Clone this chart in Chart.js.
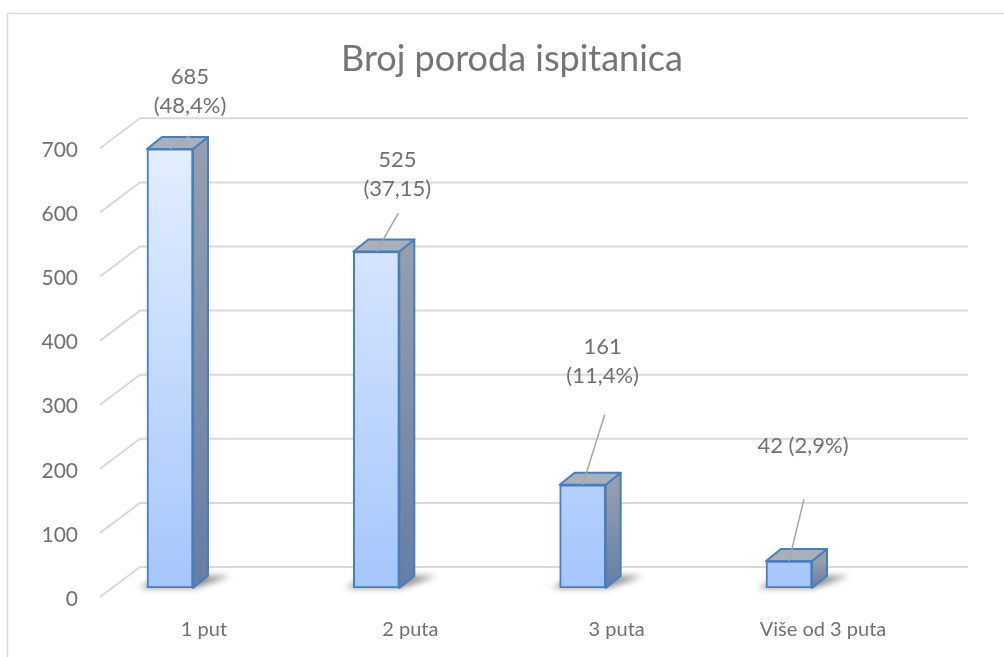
<!DOCTYPE html>
<html>
<head>
<meta charset="utf-8">
<script src="https://cdn.jsdelivr.net/npm/chart.js@4"></script>
<style>
  html, body { margin: 0; padding: 0; background: #fff; }
  #wrap { width: 1004px; height: 657px; position: relative; }
</style>
</head>
<body>
<div id="wrap"><canvas id="porodChart"></canvas></div>
<script>
// data
var categories = ['1 put', '2 puta', '3 puta', 'Više od 3 puta'];
var counts = [685, 525, 161, 42];
var shares = ['(48,4%)', '(37,15)', '(11,4%)', '(2,9%)'];
var yTicks = [0, 100, 200, 300, 400, 500, 600, 700];
var chartTitle = 'Broj poroda ispitanica';

// where each data label was dragged to (px, from the top-front centre of its bar)
var labelDx = [20, 21, 20, 14];
var labelDy = [-72, -92, -138, -115];
var leaderEnd = [[20, -13], [22, -38], [22, -70], [15, -62]];
var twoLines = [true, true, true, false];

var textGray = '#707070';
var gridGray = '#d9d9d9';
var edgeBlue = '#4a7ebb';
var fontName = 'Lato, "Open Sans", sans-serif';

// 3d look: depth of a bar and of the whole plot
var barDepth = { dx: 15, dy: -12 };
var wallDepth = { dx: 40, dy: -30 };
var frontToAxis = { dx: -12, dy: 9 };

var frame3d = {
    id: 'frame3d',
    beforeDraw: function(chart) {
        var ctx = chart.ctx;
        ctx.save();
        ctx.strokeStyle = gridGray;
        ctx.lineWidth = 1.5;
        ctx.strokeRect(7.5, 13.5, 1200, 800);

        ctx.fillStyle = '#757575';
        ctx.font = '36px ' + fontName;
        ctx.textAlign = 'center';
        ctx.textBaseline = 'middle';
        ctx.fillText(chartTitle, 512, 59);
        ctx.restore();
    },
    beforeDatasetsDraw: function(chart) {
        var ctx = chart.ctx;
        var area = chart.chartArea;
        var yScale = chart.scales.y;
        var axisX = area.left + 4;
        var wallRight = area.right + 40;
        ctx.save();
        ctx.strokeStyle = gridGray;
        ctx.lineWidth = 2;
        yTicks.forEach(function(v) {
            var y = yScale.getPixelForValue(v) + frontToAxis.dy;
            ctx.beginPath();
            ctx.moveTo(axisX, y);
            ctx.lineTo(axisX + wallDepth.dx, y + wallDepth.dy);
            ctx.lineTo(wallRight, y + wallDepth.dy);
            ctx.stroke();
        });

        // soft floor shadows
        var meta = chart.getDatasetMeta(0);
        ctx.filter = 'blur(3px)';
        ctx.fillStyle = 'rgba(0,0,0,0.45)';
        meta.data.forEach(function(bar) {
            var l = bar.x - bar.width / 2, r = bar.x + bar.width / 2, b = bar.base;
            ctx.beginPath();
            ctx.moveTo(l - 8, b);
            ctx.lineTo(r + 2, b);
            ctx.lineTo(r + barDepth.dx + 22, b + barDepth.dy);
            ctx.lineTo(l + barDepth.dx, b + barDepth.dy);
            ctx.closePath();
            ctx.fill();
        });
        ctx.restore();
    },
    afterDatasetsDraw: function(chart) {
        var ctx = chart.ctx;
        var meta = chart.getDatasetMeta(0);
        ctx.save();
        ctx.lineJoin = 'round';
        meta.data.forEach(function(bar, i) {
            var l = bar.x - bar.width / 2, r = bar.x + bar.width / 2;
            var t = bar.y, b = bar.base;
            var dx = barDepth.dx, dy = barDepth.dy;

            var side = ctx.createLinearGradient(0, t, 0, b);
            side.addColorStop(0, '#959eae');
            side.addColorStop(1, '#667da5');
            ctx.beginPath();
            ctx.moveTo(r, t);
            ctx.lineTo(r + dx, t + dy);
            ctx.lineTo(r + dx, b + dy);
            ctx.lineTo(r, b);
            ctx.closePath();
            ctx.fillStyle = side;
            ctx.fill();
            ctx.strokeStyle = edgeBlue;
            ctx.lineWidth = 2;
            ctx.stroke();

            ctx.beginPath();
            ctx.moveTo(l, t);
            ctx.lineTo(l + dx, t + dy);
            ctx.lineTo(r + dx, t + dy);
            ctx.lineTo(r, t);
            ctx.closePath();
            ctx.fillStyle = '#a8b0be';
            ctx.fill();
            ctx.stroke();

            // leader line and label
            ctx.beginPath();
            ctx.strokeStyle = '#a6a6a6';
            ctx.lineWidth = 1.5;
            ctx.moveTo(bar.x, t);
            ctx.lineTo(bar.x + leaderEnd[i][0], t + leaderEnd[i][1]);
            ctx.stroke();

            ctx.fillStyle = textGray;
            ctx.font = '22px ' + fontName;
            ctx.textAlign = 'center';
            ctx.textBaseline = 'middle';
            var lx = bar.x + labelDx[i], ly = t + labelDy[i];
            if (twoLines[i]) {
                ctx.fillText(String(counts[i]), lx, ly);
                ctx.fillText(shares[i], lx, ly + 29);
            } else {
                ctx.fillText(counts[i] + ' ' + shares[i], lx, ly);
            }
        });
        ctx.restore();
    }
};

var points = counts.map(function(v, i) { return { x: i, y: v }; });

var context = document.getElementById('porodChart').getContext('2d');
var myChart = new Chart(context, {
    type: 'bar',
    data: {
        datasets: [{
            data: points,
            barThickness: 46,
            borderColor: edgeBlue,
            borderWidth: 2,
            borderSkipped: false,
            backgroundColor: function(c) {
                var area = c.chart.chartArea;
                if (!area) return '#c5dafc';
                var g = c.chart.ctx.createLinearGradient(0, area.top, 0, area.bottom);
                g.addColorStop(0, '#e4eeff');
                g.addColorStop(1, '#a5c6fb');
                return g;
            }
        }]
    },
    options: {
        responsive: true,
        maintainAspectRatio: false,
        animation: false,
        layout: { padding: { left: 0, right: 76, top: 139.3, bottom: 0 } },
        plugins: {
            legend: { display: false },
            tooltip: { enabled: false },
            title: { display: false }
        },
        scales: {
            x: {
                type: 'linear',
                offset: false,
                min: -0.3586,
                max: 3.6737,
                grid: { display: false },
                border: { display: false },
                afterBuildTicks: function(scale) {
                    scale.ticks = categories.map(function(c, i) { return { value: i }; });
                },
                ticks: {
                    color: textGray,
                    font: { family: fontName, size: 20 },
                    padding: 22,
                    labelOffset: 34,
                    maxRotation: 0,
                    autoSkip: false,
                    callback: function(value) { return categories[value]; }
                },
                afterFit: function(scale) { scale.height = 69; }
            },
            y: {
                min: 0,
                max: 700,
                grid: { display: false },
                border: { display: false },
                ticks: {
                    stepSize: 100,
                    color: textGray,
                    font: { family: fontName, size: 21 },
                    padding: 10,
                    labelOffset: 11
                },
                afterFit: function(scale) { scale.width = 96; }
            }
        }
    },
    plugins: [frame3d]
});
</script>
</body>
</html>
